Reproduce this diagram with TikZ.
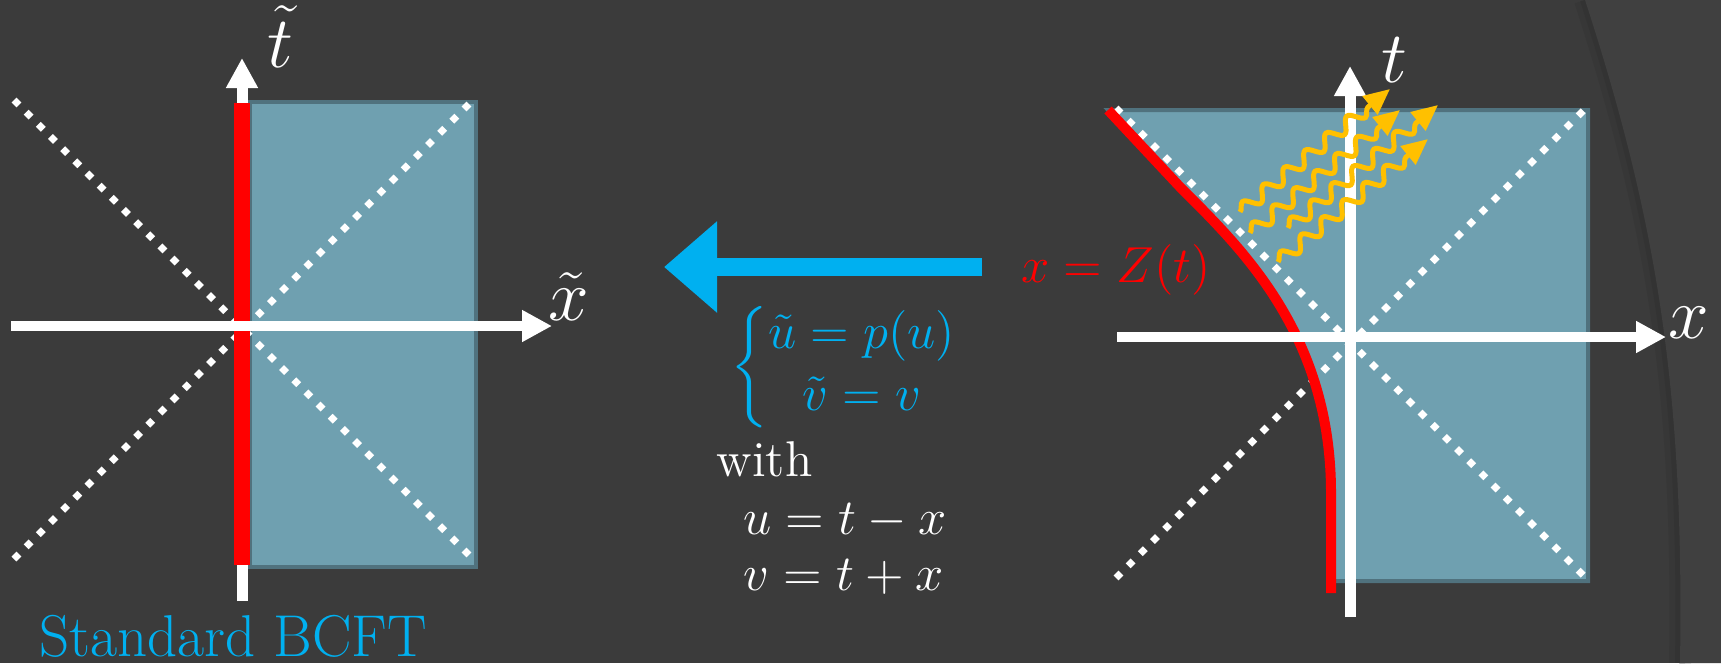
\documentclass[tikz,border=0pt]{standalone}
\usepackage{amsmath}
\usetikzlibrary{arrows.meta,decorations.pathmorphing}
\definecolor{bgdark}{RGB}{59,59,59}
\definecolor{bglight}{RGB}{64,64,64}
\definecolor{bgshade}{RGB}{51,51,51}
\definecolor{bgsoft}{RGB}{55,55,55}
\definecolor{regionfill}{RGB}{111,160,176}
\definecolor{regionedge}{RGB}{80,114,126}
\definecolor{mapblue}{RGB}{0,176,240}
\definecolor{photon}{RGB}{255,192,0}

\begin{document}
\begin{tikzpicture}[x=1cm,y=1cm,
    axis/.style={white,line width=0.11cm,-{Triangle[length=0.30cm,width=0.30cm]}},
    lightcone/.style={white,line width=0.07cm,dash pattern=on 0.07cm off 0.102cm},
    region/.style={fill=regionfill,draw=regionedge,line width=0.04cm},
    wavy/.style={photon,line width=0.05cm,decorate,
        decoration={snake,amplitude=0.065cm,segment length=0.27cm,post length=0.24cm},
        -{Triangle[length=0.26cm,width=0.23cm]}},
    lbl/.style={white,inner sep=0pt,font=\fontsize{20}{24}\selectfont},
    eqn/.style={inner sep=0pt,font=\fontsize{14.6}{17.5}\selectfont}]
    \useasboundingbox (0,0) rectangle (17.21,6.63);
    \fill[bgdark] (0,0) rectangle (17.21,6.63);
    \draw[bgsoft,line width=0.22cm]
        (15.85,6.63) .. controls (16.60,4.33) and (16.84,2.63) .. (16.80,0);
    \draw[bgshade,line width=0.10cm]
        (15.85,6.63) .. controls (16.60,4.33) and (16.84,2.63) .. (16.80,0);
    \fill[bglight] (15.85,6.63) .. controls (16.60,4.33) and (16.84,2.63) .. (16.80,0)
        -- (17.21,0) -- (17.21,6.63) -- cycle;

    \draw[region] (2.50,0.96) rectangle (4.76,5.61);
    \draw[lightcone] (0.14,5.63) -- (4.73,1.04);
    \draw[lightcone] (0.14,1.04) -- (4.73,5.63);
    \draw[axis] (2.42,0.62) -- (2.42,6.05);
    \draw[red,line width=0.16cm] (2.42,0.98) -- (2.42,5.60);
    \draw[axis,line width=0.10cm] (0.11,3.37) -- (5.52,3.37);
    \node[lbl,anchor=base] (tlabelL) at (2.80,5.96) {$\tilde{t}$};
    \node[lbl,anchor=base] (xlabelL) at (5.69,3.43) {$\tilde{x}$};
    \node[mapblue,inner sep=0pt,anchor=base,font=\fontsize{16.8}{20}\selectfont]
        (bcft) at (2.33,0.07) {Standard BCFT};

    \coordinate (mapFrom) at (9.82,3.96);
    \coordinate (mapTo) at (6.64,3.96);
    \draw[mapblue,line width=0.18cm,-{Triangle[length=0.53cm,width=0.88cm]}]
        (mapFrom) -- (mapTo);
    \node[eqn,red,anchor=base west] (bdry) at (10.21,3.81) {$x = Z(t)$};
    \node[eqn,mapblue,anchor=west] (pmap) at (7.30,2.96)
        {$\left\{\begin{array}{@{}c@{}}\tilde{u} = p(u)\\ \tilde{v} = v\end{array}\right.$};
    \node[white,inner sep=0pt,anchor=base west,font=\fontsize{14.3}{17}\selectfont]
        (with) at (7.16,1.87) {with};
    \node[white,inner sep=0pt,anchor=base west,font=\fontsize{13.8}{16.5}\selectfont]
        (udef) at (7.43,1.29) {$u = t - x$};
    \node[white,inner sep=0pt,anchor=base west,font=\fontsize{13.8}{16.5}\selectfont]
        (vdef) at (7.43,0.73) {$v = t + x$};

    \draw[region] (11.08,5.53) -- (15.88,5.53) -- (15.88,0.82) -- (13.31,0.82)
        -- (13.31,1.70) .. controls (13.31,3.30) and (12.40,4.16) .. (11.80,4.76) -- cycle;
    \draw[lightcone] (11.16,5.55) -- (15.86,0.85);
    \draw[lightcone] (11.16,0.85) -- (15.86,5.55);
    \draw[red,line width=0.10cm] (11.08,5.53) -- (11.80,4.76)
        .. controls (12.40,4.16) and (13.31,3.30) .. (13.31,1.70) -- (13.31,0.70);
    \draw[axis] (13.50,0.46) -- (13.50,5.97);
    \foreach \sx/\sy in {12.40/4.51,12.50/4.30,12.88/4.35,12.78/4.01}
        \draw[wavy] (\sx,\sy) -- ++(1.50,1.23);
    \draw[axis,line width=0.10cm] (11.17,3.26) -- (16.66,3.26);
    \node[lbl,anchor=base] (tlabelR) at (13.94,5.81) {$t$};
    \node[lbl,anchor=base] (xlabelR) at (16.89,3.25) {$x$};
\end{tikzpicture}
\end{document}
